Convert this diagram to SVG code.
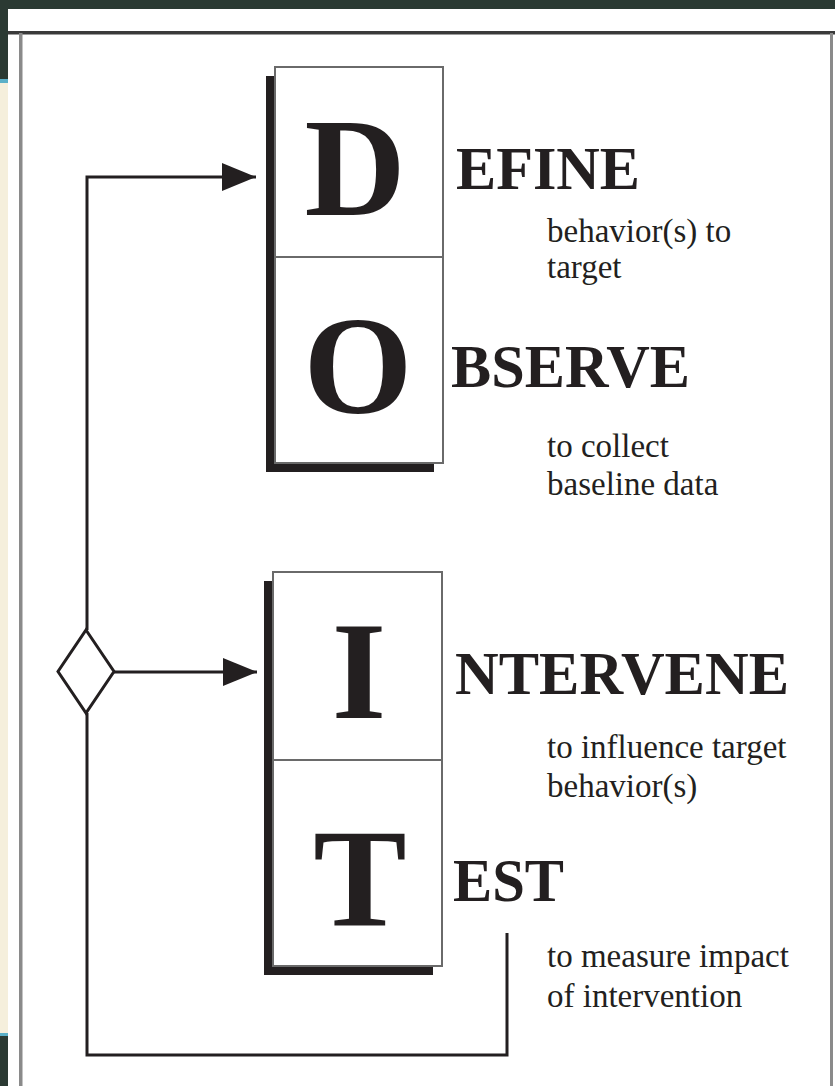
<svg xmlns="http://www.w3.org/2000/svg" width="835" height="1086" viewBox="0 0 835 1086">
<style>
.conn{fill:none;stroke:#231f20;stroke-width:3}
.box{fill:#fff;stroke:#6a6a6a;stroke-width:2}
.shadow{fill:#231f20}
.big{font-family:"Liberation Serif",serif;font-weight:bold;fill:#231f20;text-anchor:middle}
.head{font-family:"Liberation Serif",serif;font-weight:bold;font-size:61px;fill:#231f20}
.sub{font-family:"Liberation Serif",serif;font-size:33px;fill:#231f20}
</style>
<defs>
<marker id="arr" markerUnits="userSpaceOnUse" markerWidth="36" markerHeight="30" refX="34" refY="15" orient="auto">
<path d="M0,1 L34,15 L0,29 Z" fill="#231f20"/>
</marker>
</defs>
<g id="background">
<rect x="0" y="0" width="835" height="1086" fill="#fff"/>
<rect x="0" y="0" width="835" height="9" fill="#2b3a33"/>
<rect x="0" y="0" width="8" height="79" fill="#2b3a33"/>
<rect x="0" y="79" width="8" height="4" fill="#5bb0c8"/>
<rect x="0" y="83" width="8" height="950" fill="#f5efdc"/>
<rect x="0" y="1033" width="8" height="3" fill="#5bb0c8"/>
<rect x="0" y="1036" width="8" height="50" fill="#2b3a33"/>
<rect x="8" y="31" width="827" height="3.5" fill="#3a3a3a"/>
<rect x="19" y="33" width="3.5" height="1053" fill="#8a8a8a"/>
<rect x="830" y="33" width="3" height="1053" fill="#8a8a8a"/>
</g>
<g id="connectors">
<path class="conn" d="M87,630 L87,177 L256,177" marker-end="url(#arr)"/>
<path class="conn" d="M114,672 L257,672" marker-end="url(#arr)"/>
<path class="conn" d="M87,713 L87,1055 L507,1055 L507,933"/>
</g>
<g id="decision">
<polygon points="86,630 114,671.5 86,713 58,671.5" fill="#fff" stroke="#231f20" stroke-width="3"/>
</g>
<g id="node-DO">
<rect class="shadow" x="266" y="76" width="168" height="396"/>
<rect class="box" x="275" y="67" width="168" height="396"/>
<line x1="275" y1="257" x2="443" y2="257" stroke="#6a6a6a" stroke-width="2"/>
<text class="big" x="355" y="215" font-size="140">D</text>
<text class="big" x="358" y="413" font-size="140">O</text>
</g>
<g id="node-IT">
<rect class="shadow" x="264" y="581" width="169" height="394"/>
<rect class="box" x="273" y="572" width="169" height="394"/>
<line x1="273" y1="760" x2="442" y2="760" stroke="#6a6a6a" stroke-width="2"/>
<text class="big" x="359" y="718" font-size="140">I</text>
<text class="big" x="360" y="925" font-size="140">T</text>
</g>
<g id="labels">
<text class="head" x="456" y="189" textLength="184" lengthAdjust="spacingAndGlyphs">EFINE</text>
<text class="sub" x="547" y="242">behavior(s) to</text>
<text class="sub" x="547" y="278">target</text>
<text class="head" x="451" y="387" textLength="239" lengthAdjust="spacingAndGlyphs">BSERVE</text>
<text class="sub" x="547" y="457">to collect</text>
<text class="sub" x="547" y="495">baseline data</text>
<text class="head" x="455" y="694" textLength="334" lengthAdjust="spacingAndGlyphs">NTERVENE</text>
<text class="sub" x="547" y="758">to influence target</text>
<text class="sub" x="547" y="797">behavior(s)</text>
<text class="head" x="453" y="901" textLength="111" lengthAdjust="spacingAndGlyphs">EST</text>
<text class="sub" x="547" y="967">to measure impact</text>
<text class="sub" x="547" y="1007">of intervention</text>
</g>
</svg>
